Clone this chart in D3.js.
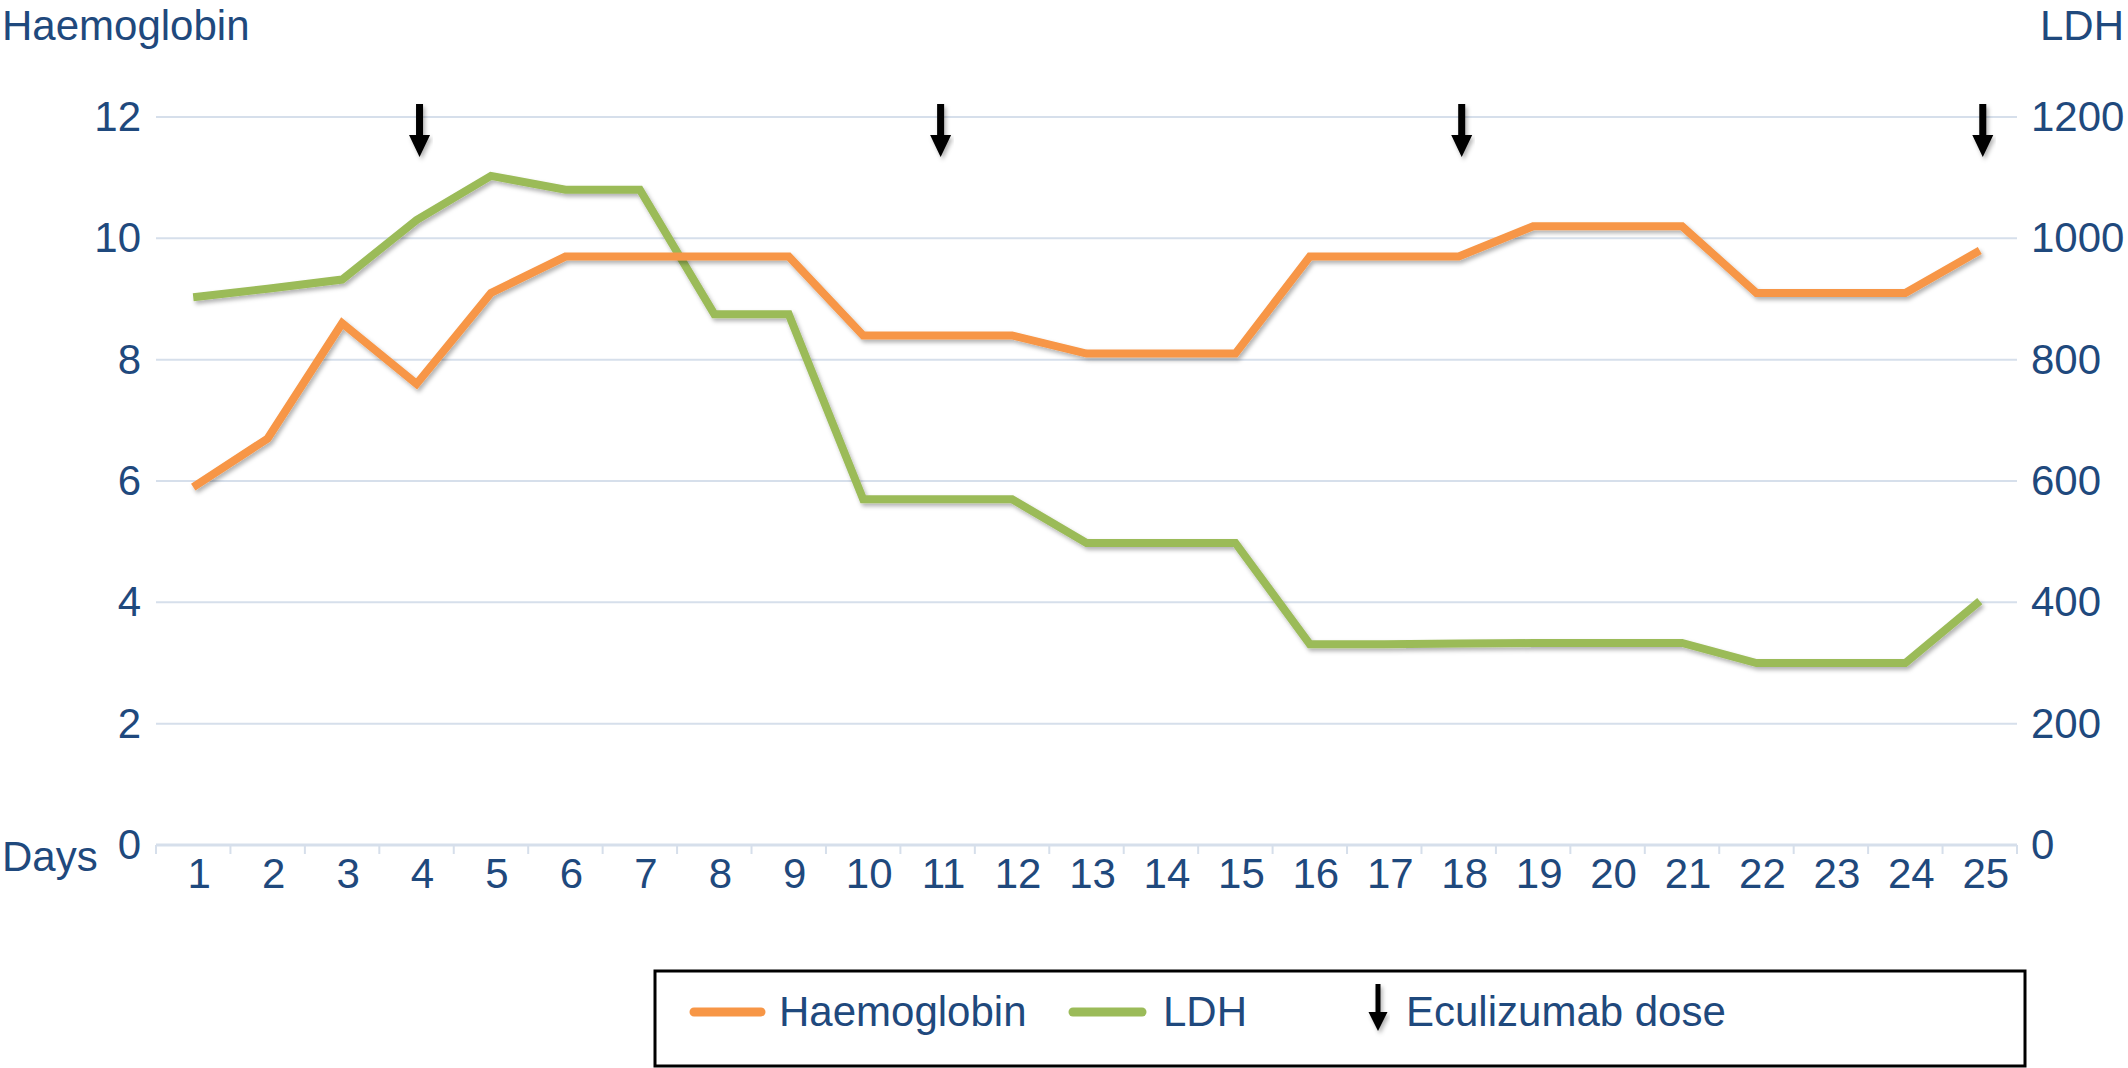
<!DOCTYPE html>
<html>
<head>
<meta charset="utf-8">
<script src="https://cdn.jsdelivr.net/npm/d3@7/dist/d3.min.js"></script>
<style>
  html, body { margin: 0; padding: 0; background: #fff; }
  svg { display: block; }
  text { font-family: "Liberation Sans", Arial, Helvetica, sans-serif; fill: #1F497D; }
</style>
</head>
<body>
<svg id="chart" width="2128" height="1068"></svg>
<script>
// ---- data ----
const days = ["1","2","3","4","5","6","7","8","9","10","11","12","13","14","15","16","17","18","19","20","21","22","23","24","25"];
const haemoglobin = [5.9, 6.7, 8.6, 7.6, 9.1, 9.7, 9.7, 9.7, 9.7, 8.4, 8.4, 8.4, 8.1, 8.1, 8.1, 9.7, 9.7, 9.7, 10.2, 10.2, 10.2, 9.1, 9.1, 9.1, 9.8];
const ldh = [903, 917, 932, 1030, 1103, 1080, 1080, 875, 875, 570, 570, 570, 498, 498, 498, 331, 331, 332, 333, 333, 333, 300, 300, 300, 402];
const doseDays = ["4", "11", "18", "25"];
const leftTicks = [0, 2, 4, 6, 8, 10, 12];
const rightTicks = [0, 200, 400, 600, 800, 1000, 1200];

const svg = d3.select("#chart");
const textColor = "#1F497D";
const gridColor = "#D6DFEB";
const hbColor = "#F79646";
const ldhColor = "#9BBB59";
const fs = 42;
const ff = '"Liberation Sans", Arial, sans-serif';

const defs = svg.append("defs");
const f = defs.append("filter").attr("id", "shadow").attr("x", "-10%").attr("y", "-10%").attr("width", "120%").attr("height", "130%");
f.append("feDropShadow").attr("dx", 2).attr("dy", 3).attr("stdDeviation", 2).attr("flood-color", "#000").attr("flood-opacity", 0.3);

const x = d3.scaleBand().domain(days).range([156, 2017]);
const yL = d3.scaleLinear().domain([0, 12]).range([845, 117]);
const yR = d3.scaleLinear().domain([0, 1200]).range([845, 117]);
const cx = d => x(d) + x.bandwidth() / 2;

// gridlines
svg.append("g").selectAll("line").data(leftTicks.filter(t => t > 0)).join("line")
  .attr("x1", x.range()[0]).attr("x2", x.range()[1])
  .attr("y1", d => yL(d)).attr("y2", d => yL(d))
  .attr("stroke", gridColor).attr("stroke-width", 2);

// x axis line + boundary ticks
svg.append("line").attr("x1", x.range()[0]).attr("x2", x.range()[1])
  .attr("y1", yL(0)).attr("y2", yL(0)).attr("stroke", gridColor).attr("stroke-width", 3);
const bounds = days.map(d => x(d)).concat([x.range()[1]]);
svg.append("g").selectAll("line").data(bounds).join("line")
  .attr("x1", d => d).attr("x2", d => d)
  .attr("y1", yL(0)).attr("y2", yL(0) + 9)
  .attr("stroke", gridColor).attr("stroke-width", 2);

// bottom axis labels
const xAxis = svg.append("g").attr("transform", `translate(6,${yL(0)})`)
  .call(d3.axisBottom(x).tickSize(0).tickPadding(13));
xAxis.select(".domain").remove();
xAxis.selectAll("text").style("font-size", fs + "px").attr("fill", textColor).style("font-family", ff);

// left axis
const lAxis = svg.append("g").attr("transform", "translate(141,0)")
  .call(d3.axisLeft(yL).tickValues(leftTicks).tickSize(0).tickPadding(0));
lAxis.select(".domain").remove();
lAxis.selectAll("text").style("font-size", fs + "px").attr("fill", textColor).style("font-family", ff);

// right axis
const rAxis = svg.append("g").attr("transform", "translate(2031,0)")
  .call(d3.axisRight(yR).tickValues(rightTicks).tickFormat(d3.format("d")).tickSize(0).tickPadding(0));
rAxis.select(".domain").remove();
rAxis.selectAll("text").style("font-size", fs + "px").attr("fill", textColor).style("font-family", ff);

// axis titles
svg.append("text").attr("x", 2).attr("y", 40).style("font-size", fs + "px").text("Haemoglobin");
svg.append("text").attr("x", 2124).attr("y", 40).attr("text-anchor", "end").style("font-size", fs + "px").text("LDH");
svg.append("text").attr("x", 2).attr("y", 871).style("font-size", fs + "px").text("Days");

// lines
const lineL = d3.line().x((d, i) => cx(days[i])).y(d => yL(d));
const lineR = d3.line().x((d, i) => cx(days[i])).y(d => yR(d));
svg.append("path").datum(ldh).attr("d", lineR).attr("fill", "none")
  .attr("stroke", ldhColor).attr("stroke-width", 8).attr("stroke-linejoin", "miter").attr("filter", "url(#shadow)");
svg.append("path").datum(haemoglobin).attr("d", lineL).attr("fill", "none")
  .attr("stroke", hbColor).attr("stroke-width", 8).attr("stroke-linejoin", "miter").attr("filter", "url(#shadow)");

// dose arrows
function arrowPath(xc, top, headStart, tip, shaftW, headW) {
  return `M${xc - shaftW/2},${top} L${xc + shaftW/2},${top} L${xc + shaftW/2},${headStart} L${xc + headW/2},${headStart} L${xc},${tip} L${xc - headW/2},${headStart} L${xc - shaftW/2},${headStart} Z`;
}
svg.append("g").selectAll("path").data(doseDays).join("path")
  .attr("d", d => arrowPath(cx(d) + 3, 104, 135, 157, 7, 21))
  .attr("fill", "#000").attr("filter", "url(#shadow)");

// legend
svg.append("rect").attr("x", 655).attr("y", 971).attr("width", 1370).attr("height", 95)
  .attr("fill", "none").attr("stroke", "#000").attr("stroke-width", 3);
const legY = 1012;
svg.append("line").attr("x1", 694).attr("x2", 761).attr("y1", legY).attr("y2", legY)
  .attr("stroke", hbColor).attr("stroke-width", 9).attr("stroke-linecap", "round");
svg.append("text").attr("x", 779).attr("y", 1026).style("font-size", fs + "px").text("Haemoglobin");
svg.append("line").attr("x1", 1073).attr("x2", 1142).attr("y1", legY).attr("y2", legY)
  .attr("stroke", ldhColor).attr("stroke-width", 9).attr("stroke-linecap", "round");
svg.append("text").attr("x", 1163).attr("y", 1026).style("font-size", fs + "px").text("LDH");
svg.append("path").attr("d", arrowPath(1378, 984, 1012, 1031, 5, 19)).attr("fill", "#000").attr("filter", "url(#shadow)");
svg.append("text").attr("x", 1406).attr("y", 1026).style("font-size", fs + "px").text("Eculizumab dose");
</script>
</body>
</html>
